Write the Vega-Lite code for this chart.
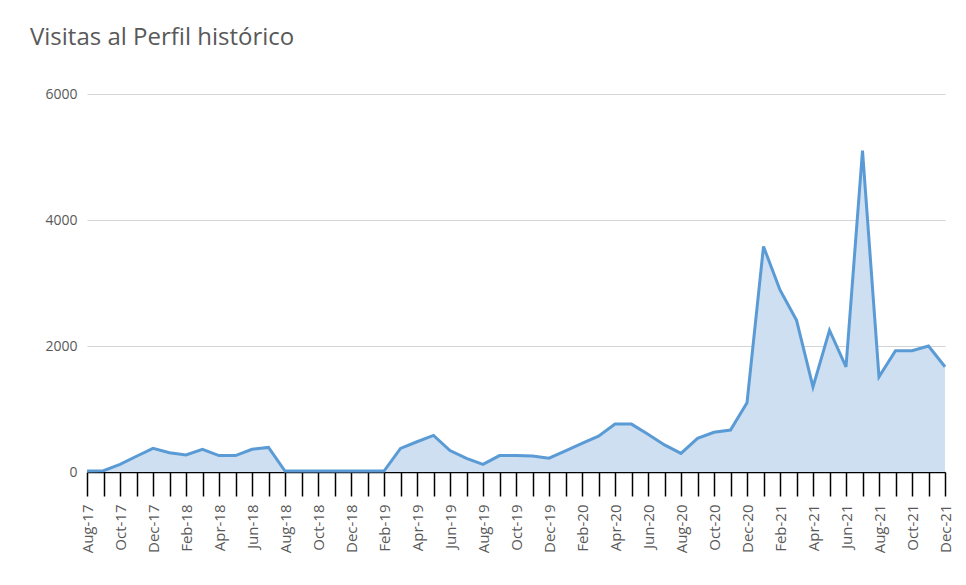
{
  "$schema": "https://vega.github.io/schema/vega-lite/v6.json",
  "autosize": "none",
  "width": 858,
  "height": 378,
  "padding": {"left": 87, "top": 94, "right": 21, "bottom": 113},
  "background": "white",
  "config": {"view": {"stroke": null}, "font": "Open Sans"},
  "title": {
    "text": "Visitas al Perfil histórico",
    "anchor": "start",
    "frame": "group",
    "dx": -57,
    "offset": 18,
    "baseline": "alphabetic",
    "fontSize": 24,
    "fontWeight": "normal",
    "color": "#595959",
    "font": "Open Sans"
  },
  "data": {
    "values": [
      {"mes": "Aug-17", "visitas": 15},
      {"mes": "Sep-17", "visitas": 20},
      {"mes": "Oct-17", "visitas": 120},
      {"mes": "Nov-17", "visitas": 250},
      {"mes": "Dec-17", "visitas": 375},
      {"mes": "Jan-18", "visitas": 305},
      {"mes": "Feb-18", "visitas": 270},
      {"mes": "Mar-18", "visitas": 360},
      {"mes": "Apr-18", "visitas": 260},
      {"mes": "May-18", "visitas": 260},
      {"mes": "Jun-18", "visitas": 360},
      {"mes": "Jul-18", "visitas": 390},
      {"mes": "Aug-18", "visitas": 15},
      {"mes": "Sep-18", "visitas": 15},
      {"mes": "Oct-18", "visitas": 15},
      {"mes": "Nov-18", "visitas": 15},
      {"mes": "Dec-18", "visitas": 15},
      {"mes": "Jan-19", "visitas": 15},
      {"mes": "Feb-19", "visitas": 15},
      {"mes": "Mar-19", "visitas": 375},
      {"mes": "Apr-19", "visitas": 480},
      {"mes": "May-19", "visitas": 580},
      {"mes": "Jun-19", "visitas": 340},
      {"mes": "Jul-19", "visitas": 215},
      {"mes": "Aug-19", "visitas": 120},
      {"mes": "Sep-19", "visitas": 260},
      {"mes": "Oct-19", "visitas": 260},
      {"mes": "Nov-19", "visitas": 255},
      {"mes": "Dec-19", "visitas": 220},
      {"mes": "Jan-20", "visitas": 335},
      {"mes": "Feb-20", "visitas": 455},
      {"mes": "Mar-20", "visitas": 570},
      {"mes": "Apr-20", "visitas": 760},
      {"mes": "May-20", "visitas": 760},
      {"mes": "Jun-20", "visitas": 600},
      {"mes": "Jul-20", "visitas": 430},
      {"mes": "Aug-20", "visitas": 295},
      {"mes": "Sep-20", "visitas": 535},
      {"mes": "Oct-20", "visitas": 630},
      {"mes": "Nov-20", "visitas": 665},
      {"mes": "Dec-20", "visitas": 1100},
      {"mes": "Jan-21", "visitas": 3580},
      {"mes": "Feb-21", "visitas": 2890},
      {"mes": "Mar-21", "visitas": 2410},
      {"mes": "Apr-21", "visitas": 1350},
      {"mes": "May-21", "visitas": 2250},
      {"mes": "Jun-21", "visitas": 1670},
      {"mes": "Jul-21", "visitas": 5100},
      {"mes": "Aug-21", "visitas": 1510},
      {"mes": "Sep-21", "visitas": 1925},
      {"mes": "Oct-21", "visitas": 1925},
      {"mes": "Nov-21", "visitas": 2000},
      {"mes": "Dec-21", "visitas": 1670}
    ]
  },
  "mark": {
    "type": "area",
    "color": "#CDDFF1",
    "opacity": 1,
    "fillOpacity": 1,
    "line": {"color": "#5B9BD5", "strokeWidth": 3, "strokeJoin": "miter", "opacity": 1}
  },
  "encoding": {
    "x": {
      "field": "mes",
      "type": "ordinal",
      "sort": null,
      "scale": {"type": "point", "padding": 0},
      "axis": {
        "title": null,
        "labelAngle": -90,
        "labelExpr": "test(/^(Aug|Oct|Dec|Feb|Apr|Jun)/, datum.value) ? datum.value : ''",
        "labelFontSize": 15,
        "labelColor": "#595959",
        "labelFont": "Open Sans",
        "labelPadding": 8,
        "tickSize": 24,
        "tickColor": "#000000",
        "tickWidth": 1.5,
        "domainColor": "#000000",
        "domainWidth": 1.5,
        "grid": false,
        "labelOverlap": false
      }
    },
    "y": {
      "field": "visitas",
      "type": "quantitative",
      "scale": {"domain": [0, 6000], "nice": false},
      "axis": {
        "title": null,
        "values": [0, 2000, 4000, 6000],
        "format": "d",
        "domain": false,
        "ticks": false,
        "grid": true,
        "gridColor": "#d4d4d4",
        "gridWidth": 1.2,
        "labelFontSize": 14,
        "labelColor": "#595959",
        "labelFont": "Open Sans",
        "labelPadding": 10
      }
    }
  }
}
